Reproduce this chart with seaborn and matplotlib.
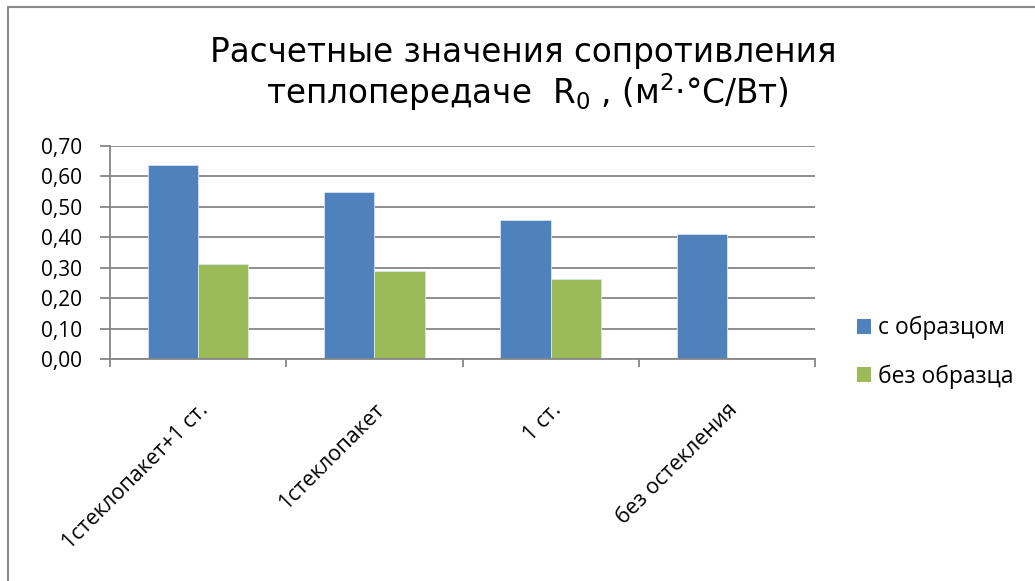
import numpy as np
import pandas as pd
import matplotlib
matplotlib.use("Agg")
import matplotlib.pyplot as plt
from matplotlib.lines import Line2D
import seaborn as sns

categories = ["1стеклопакет+1 ст.", "1стеклопакет", "1 ст.", "без остекления"]
series_names = ["с образцом", "без образца"]
with_sample = [0.638, 0.547, 0.457, 0.410]
without_sample = [0.313, 0.289, 0.263, np.nan]
y_ticks = [0.0, 0.1, 0.2, 0.3, 0.4, 0.5, 0.6, 0.7]
y_tick_labels = ["0,00", "0,10", "0,20", "0,30", "0,40", "0,50", "0,60", "0,70"]
colors = ["#4F81BD", "#9BBB59"]

df = pd.DataFrame({
    "category": categories * 2,
    "series": [series_names[0]] * 4 + [series_names[1]] * 4,
    "value": with_sample + without_sample,
})

sns.set_theme(style="white")
plt.rcParams["font.family"] = ["Open Sans", "DejaVu Sans"]
plt.rcParams["mathtext.fontset"] = "dejavusans"
plt.rcParams["text.color"] = "black"

W, H = 1035, 581
fig = plt.figure(figsize=(W / 100, H / 100), dpi=100)
fig.patch.set_facecolor("white")
ax = fig.add_axes([110 / W, 1 - 359.3 / H, (815 - 110) / W, (359.3 - 145.7) / H])

sns.barplot(data=df, x="category", y="value", hue="series", order=categories,
            hue_order=series_names, palette=colors, width=0.57, gap=0,
            saturation=1, edgecolor="#D8E4F0", linewidth=0.6, ax=ax, legend=True)

grid_c = "#868686"
ax.set_ylim(0, 0.7)
ax.set_xlim(-0.5, len(categories) - 0.5)
ax.set_yticks(y_ticks)
ax.set_yticklabels(y_tick_labels)
ax.yaxis.grid(True, color=grid_c, linewidth=1.3)
ax.set_axisbelow(True)
ax.set_xlabel("")
ax.set_ylabel("")
for s in ["top", "right"]:
    ax.spines[s].set_visible(False)
for s in ["left", "bottom"]:
    ax.spines[s].set_color(grid_c)
    ax.spines[s].set_linewidth(1.3)

ax.tick_params(axis="y", length=7, width=1.3, color=grid_c, pad=13,
               labelsize=15, labelcolor="black", left=True)
ax.set_xticks(range(len(categories)))
ax.set_xticklabels(categories, rotation=45, ha="right", rotation_mode="anchor",
                   fontsize=15.5, color="black")
ax.tick_params(axis="x", which="major", length=0, pad=29)
ax.set_xticks(np.arange(-0.5, len(categories), 1.0), minor=True)
ax.tick_params(axis="x", which="minor", length=5.5, width=1.3, color=grid_c, bottom=True)

leg = ax.legend(loc="center left", bbox_to_anchor=(857 / W, 1 - 352.5 / H),
                bbox_transform=fig.transFigure, frameon=False, fontsize=16.5,
                handlelength=0.62, handleheight=0.62, handletextpad=0.3,
                labelspacing=1.05, borderpad=0, borderaxespad=0)
for p in leg.get_patches():
    p.set_edgecolor("none")
for t in leg.get_texts():
    t.set_color("black")

fig.text(523 / W, 1 - 62.3 / H, "Расчетные значения сопротивления",
         ha="center", va="baseline", fontsize=23.5, family="DejaVu Sans", color="black")
fig.text(527 / W, 1 - 104 / H, "теплопередаче  R$_0$ , (м$^2$·°C/Вт)",
         ha="center", va="baseline", fontsize=23.5, family="DejaVu Sans", color="black")

fig.add_artist(Line2D([8 / W, 1], [1 - 7 / H, 1 - 7 / H], color="#8a8a8a", linewidth=1.5,
                      transform=fig.transFigure))
fig.add_artist(Line2D([8 / W, 8 / W], [0, 1 - 7 / H], color="#8a8a8a", linewidth=1.5,
                      transform=fig.transFigure))

fig.savefig("out.png", dpi=100, facecolor="white")
